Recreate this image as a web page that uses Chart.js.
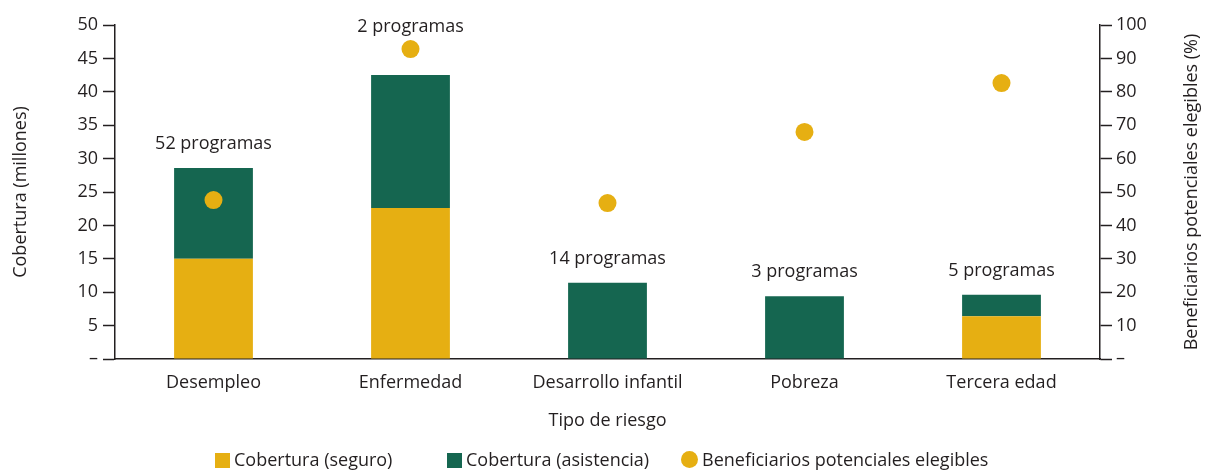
<!DOCTYPE html>
<html>
<head>
<meta charset="utf-8">
<script src="https://cdn.jsdelivr.net/npm/chart.js@4"></script>
<style>
  html, body { margin: 0; padding: 0; background: #fff; }
  #wrap { position: relative; width: 1206px; height: 470px; }
  #leyenda { position: absolute; left: 0; top: 448px; width: 1206px; height: 22px;
             font: 18px "Open Sans", Lato, sans-serif; color: #231f20; }
  #leyenda span.item { position: absolute; top: 0; white-space: nowrap; line-height: 22px; }
  #leyenda i { display: inline-block; vertical-align: -2px; margin-right: 4px; }
  .cuadro { width: 15px; height: 15px; }
  .punto { width: 17px; height: 17px; border-radius: 50%; }
</style>
</head>
<body>
<div id="wrap">
  <canvas id="riesgo"></canvas>
  <div id="leyenda"></div>
</div>
<script>
// categorías de riesgo y series
var categorias = ['Desempleo', 'Enfermedad', 'Desarrollo infantil', 'Pobreza', 'Tercera edad'];
var coberturaSeguro = [15, 22.6, 0, 0, 6.4];           // millones
var coberturaAsistencia = [13.6, 19.9, 11.4, 9.4, 3.2]; // millones
var beneficiarios = [47.6, 92.8, 46.7, 68, 82.6];       // %
var programas = ['52 programas', '2 programas', '14 programas', '3 programas', '5 programas'];
var ticksIzq = [0, 5, 10, 15, 20, 25, 30, 35, 40, 45, 50];
var ticksDer = [0, 10, 20, 30, 40, 50, 60, 70, 80, 90, 100];

var AMARILLO = '#e6af12';
var VERDE = '#156650';
var TINTA = '#231f20';
var FUENTE = '"Open Sans", Lato, sans-serif';
var TAM = 18;

Chart.defaults.font.family = FUENTE;
Chart.defaults.font.size = TAM;
Chart.defaults.color = TINTA;

// etiqueta "n programas" sobre cada barra y título del eje derecho
const etiquetasProgramas = {
    id: 'etiquetasProgramas',
    afterDatasetsDraw(chart) {
        const ctx = chart.ctx;
        const y = chart.scales.y;
        const y1 = chart.scales.y1;
        const x = chart.scales.x;
        ctx.save();
        ctx.font = TAM + 'px ' + FUENTE;
        ctx.fillStyle = TINTA;
        ctx.textAlign = 'center';
        ctx.textBaseline = 'middle';
        programas.forEach(function (txt, i) {
            var tope = y.getPixelForValue(coberturaSeguro[i] + coberturaAsistencia[i]);
            var py = tope - 24;
            var punto = y1.getPixelForValue(beneficiarios[i]);
            if (punto < tope && punto > py - 25) {
                py = punto - 22;
            }
            ctx.fillText(txt, x.getPixelForValue(i), py);
        });

        // título derecho, leído de abajo hacia arriba
        var cy = (chart.chartArea.top + chart.chartArea.bottom) / 2;
        ctx.translate(1192, cy);
        ctx.rotate(-Math.PI / 2);
        ctx.fillText('Beneficiarios potenciales elegibles (%)', 0, 0);
        ctx.restore();
    }
};

var ctx = document.getElementById('riesgo');
var grafico = new Chart(ctx, {
    type: 'bar',
    data: {
        labels: categorias,
        datasets: [{
            label: 'Cobertura (seguro)',
            data: coberturaSeguro,
            backgroundColor: AMARILLO,
            stack: 'cobertura',
            order: 1,
            barPercentage: 0.4,
            categoryPercentage: 1
        },
        {
            label: 'Cobertura (asistencia)',
            data: coberturaAsistencia,
            backgroundColor: VERDE,
            stack: 'cobertura',
            order: 1,
            barPercentage: 0.4,
            categoryPercentage: 1
        },
        {
            type: 'line',
            label: 'Beneficiarios potenciales elegibles',
            data: beneficiarios,
            yAxisID: 'y1',
            showLine: false,
            order: 0,
            pointRadius: 9,
            pointHoverRadius: 9,
            pointBackgroundColor: AMARILLO,
            pointBorderWidth: 0,
            backgroundColor: AMARILLO,
            borderColor: AMARILLO
        }]
    },
    options: {
        responsive: true,
        maintainAspectRatio: false,
        animation: false,
        layout: {
            padding: { top: 25, left: 6, right: 0, bottom: 25 }
        },
        scales: {
            x: {
                stacked: true,
                grid: { display: false, drawTicks: false },
                border: { color: TINTA, width: 1.5 },
                ticks: { padding: 13, color: TINTA },
                title: { display: true, text: 'Tipo de riesgo', color: TINTA, padding: { top: 0, bottom: 13 } },
                afterFit: function (s) { s.height = 86; }
            },
            y: {
                stacked: true,
                min: 0,
                max: 50,
                afterBuildTicks: function (s) { s.ticks = ticksIzq.map(function (v) { return { value: v }; }); },
                ticks: {
                    padding: 5,
                    color: TINTA,
                    callback: function (v) { return v === 0 ? '–' : v; }
                },
                grid: { drawOnChartArea: false, tickLength: 12, tickColor: TINTA, tickWidth: 1.5 },
                border: { color: TINTA, width: 1.5 },
                title: { display: true, text: 'Cobertura (millones)', color: TINTA },
                afterFit: function (s) { s.width = 109; }
            },
            y1: {
                position: 'right',
                min: 0,
                max: 100,
                afterBuildTicks: function (s) { s.ticks = ticksDer.map(function (v) { return { value: v }; }); },
                ticks: {
                    padding: 4,
                    color: TINTA,
                    callback: function (v) { return v === 0 ? '–' : v; }
                },
                grid: { drawOnChartArea: false, tickLength: 12, tickColor: TINTA, tickWidth: 1.5 },
                border: { color: TINTA, width: 1.5 },
                afterFit: function (s) { s.width = 106; }
            }
        },
        plugins: {
            tooltip: { enabled: false },
            legend: { display: false }
        }
    },
    plugins: [etiquetasProgramas]
});

// leyenda en HTML, armada desde los datasets
var posLeyenda = [215, 447, 681];
var leyenda = document.getElementById('leyenda');
grafico.data.datasets.forEach(function (ds, i) {
    var item = document.createElement('span');
    item.className = 'item';
    item.style.left = posLeyenda[i] + 'px';
    var marca = document.createElement('i');
    marca.className = ds.type === 'line' ? 'punto' : 'cuadro';
    marca.style.background = ds.backgroundColor;
    item.appendChild(marca);
    item.appendChild(document.createTextNode(ds.label));
    leyenda.appendChild(item);
});
</script>
</body>
</html>
